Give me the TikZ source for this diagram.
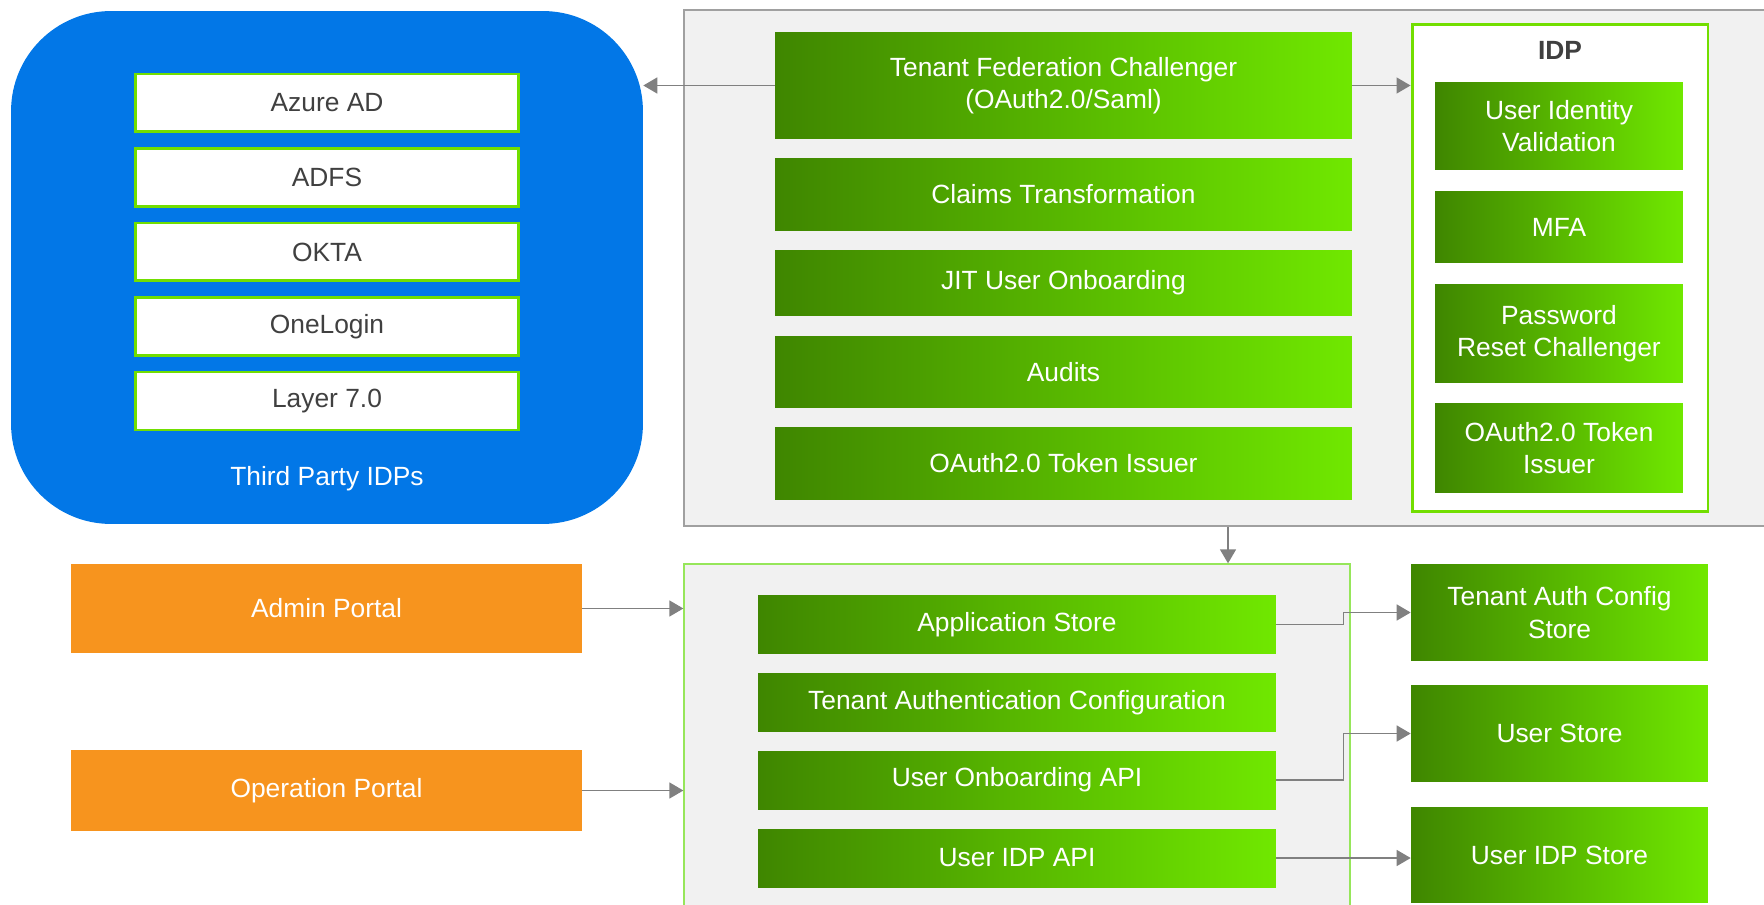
\documentclass[tikz,border=0pt]{standalone}
\usepackage{fontspec}
\setmainfont{Liberation Sans}
\usepackage{xcolor}
\usetikzlibrary{arrows.meta,calc}
\definecolor{gdark}{RGB}{63,134,0}
\definecolor{glight}{RGB}{112,232,0}
\definecolor{gline}{RGB}{114,222,0}
\definecolor{gthin}{RGB}{150,230,90}
\definecolor{idpblue}{RGB}{2,119,231}
\definecolor{portal}{RGB}{247,148,30}
\definecolor{panel}{RGB}{241,241,241}
\definecolor{panelline}{RGB}{160,160,160}
\definecolor{arrowgray}{RGB}{128,128,128}
\definecolor{idptext}{RGB}{64,64,64}

\begin{document}
\begin{tikzpicture}[x=0.02cm, y=-0.02cm,
  txt/.style={font=\fontsize{15}{18.5}\selectfont},
  gbox/.style={txt, left color=gdark, right color=glight, text=white, align=center, inner sep=0pt},
  wbox/.style={txt, draw=gline, line width=1.7pt, fill=white, text=idptext, inner sep=0pt, minimum width=7.68cm, minimum height=1.16cm},
  obox/.style={txt, fill=portal, text=white, inner sep=0pt, minimum width=10.22cm},
  arr/.style={draw=arrowgray, line width=0.85pt, -{Triangle[length=0.28cm, width=0.32cm]}}]
  \useasboundingbox (0,0) rectangle (1764,905);
  \node[fill=idpblue, rounded corners=2cm, minimum width=12.64cm, minimum height=10.26cm] (tpidp) at (327,267.5) {};
  \node[wbox] (azure) at (327,103) {Azure AD};
  \node[wbox] (adfs) at (327,177.5) {ADFS};
  \node[wbox] (okta) at (327,252) {OKTA};
  \node[wbox] (onelogin) at (327,326.5) {OneLogin};
  \node[wbox] (layer) at (327,401) {Layer 7.0};
  \node[txt, text=white] (tplabel) at (327,479) {Third Party IDPs};
  \node[fill=panel, draw=panelline, line width=1.1pt, minimum width=22.12cm, minimum height=10.32cm] (upper) at (1237,268) {};
  \node[gbox, minimum width=11.54cm, minimum height=2.14cm] (tfc) at (1063.5,85.5) {Tenant Federation Challenger\\(OAuth2.0/Saml)};
  \node[gbox, minimum width=11.54cm, minimum height=1.46cm] (claims) at (1063.5,194.5) {Claims Transformation};
  \node[gbox, minimum width=11.54cm, minimum height=1.32cm] (jit) at (1063.5,283) {JIT User Onboarding};
  \node[gbox, minimum width=11.54cm, minimum height=1.44cm] (audits) at (1063.5,372) {Audits};
  \node[gbox, minimum width=11.54cm, minimum height=1.46cm] (issuer) at (1063.5,463.5) {OAuth2.0 Token Issuer};
  \node[fill=white, draw=gline, line width=1.7pt, minimum width=5.92cm, minimum height=9.76cm] (idpbox) at (1560,268) {};
  \node[txt, font=\fontsize{15}{18.5}\selectfont\bfseries, text=idptext] (idplabel) at (1560,50) {IDP};
  \node[gbox, minimum width=4.96cm, minimum height=1.76cm] (uiv) at (1559,126) {User Identity\\Validation};
  \node[gbox, minimum width=4.96cm, minimum height=1.44cm] (mfa) at (1559,227) {MFA};
  \node[gbox, minimum width=4.96cm, minimum height=1.98cm] (prc) at (1559,333.5) {Password\\Reset Challenger};
  \node[gbox, minimum width=4.96cm, minimum height=1.8cm] (idpissuer) at (1559,448) {OAuth2.0 Token\\Issuer};
  \node[fill=panel, draw=gthin, line width=0.8pt, minimum width=13.32cm, minimum height=7.52cm] (lower) at (1017,752) {};
  \node[gbox, minimum width=10.36cm, minimum height=1.18cm] (appst) at (1017,624.5) {Application Store};
  \node[gbox, minimum width=10.36cm, minimum height=1.18cm] (tac) at (1017,702.5) {Tenant Authentication Configuration};
  \node[gbox, minimum width=10.36cm, minimum height=1.16cm] (uoa) at (1017,780) {User Onboarding API};
  \node[gbox, minimum width=10.36cm, minimum height=1.16cm] (uia) at (1017,858) {User IDP API};
  \node[obox, minimum height=1.78cm] (admin) at (326.5,608.5) {Admin Portal};
  \node[obox, minimum height=1.62cm] (oper) at (326.5,790.5) {Operation Portal};
  \node[gbox, minimum width=5.94cm, minimum height=1.94cm] (tacs) at (1559.5,612.5) {Tenant Auth Config\\Store};
  \node[gbox, minimum width=5.94cm, minimum height=1.94cm] (ustore) at (1559.5,733.5) {User Store};
  \node[gbox, minimum width=5.94cm, minimum height=1.92cm] (uidps) at (1559.5,855) {User IDP Store};
  \coordinate (drop) at (1228,0);
  \draw[arr] (tfc.west) -- (tfc.west -| tpidp.east);
  \draw[arr] (tfc.east) -- (tfc.east -| idpbox.west);
  \draw[arr] (drop |- upper.south) -- (drop |- lower.north);
  \draw[arr] (admin.east) -- (admin.east -| lower.west);
  \draw[arr] (oper.east) -- (oper.east -| lower.west);
  \draw[arr] (appst.east) -- +(67,0) |- (tacs.west);
  \draw[arr] (uoa.east) -- +(67,0) |- (ustore.west);
  \draw[arr] (uia.east) -- (uia.east -| uidps.west);
\end{tikzpicture}
\end{document}
